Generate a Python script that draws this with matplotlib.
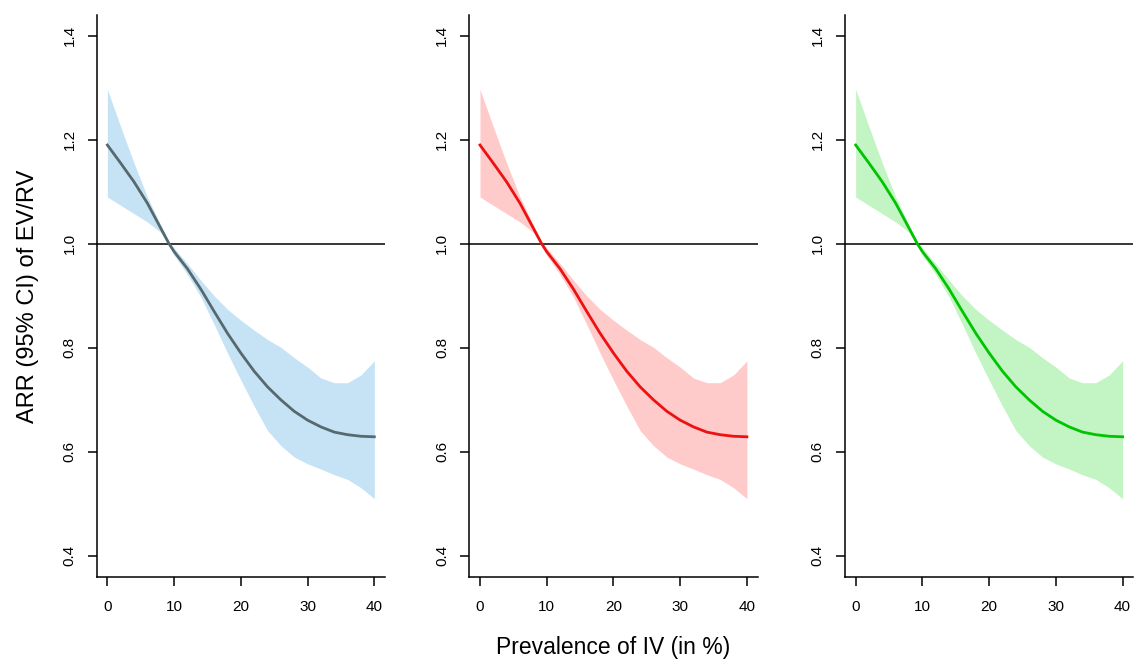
import matplotlib
matplotlib.use("Agg")
import matplotlib.pyplot as plt

plt.rcParams['font.family'] = ['Liberation Sans', 'DejaVu Sans']

# Data
prevalence = [0, 2, 4, 6, 8, 9.25, 10, 12, 14, 16, 18, 20, 22, 24, 26, 28, 30, 32, 34, 36, 38, 40]
arr_center = [1.190, 1.155, 1.119, 1.078, 1.030, 1.000, 0.985, 0.952, 0.913, 0.870, 0.828, 0.790,
              0.755, 0.725, 0.700, 0.678, 0.661, 0.648, 0.638, 0.633, 0.630, 0.629]
arr_upper = [1.297, 1.225, 1.155, 1.090, 1.036, 1.003, 0.992, 0.962, 0.930, 0.900, 0.874, 0.853,
             0.834, 0.816, 0.801, 0.781, 0.763, 0.742, 0.733, 0.733, 0.748, 0.775]
arr_lower = [1.090, 1.074, 1.058, 1.042, 1.022, 0.997, 0.978, 0.941, 0.898, 0.845, 0.790, 0.738,
             0.688, 0.641, 0.612, 0.590, 0.577, 0.567, 0.556, 0.547, 0.531, 0.510]

line_colors = ["#56696f", "#ee1111", "#00c400"]
band_colors = ["#c6e3f5", "#ffcaca", "#c3f4c3"]

x_ticks = [0, 10, 20, 30, 40]
y_ticks = [0.4, 0.6, 0.8, 1.0, 1.2, 1.4]
y_tick_labels = ["0.4", "0.6", "0.8", "1.0", "1.2", "1.4"]
x_label = "Prevalence of IV (in %)"
y_label = "ARR (95% CI) of EV/RV"

W, H = 1135, 660
fig = plt.figure(figsize=(W / 100, H / 100), dpi=100)

lefts = [96.7, 469.3, 845.0]
ax_w = 288.3
top_px, bottom_px = 15.0, 576.7

for i in range(3):
    ax = fig.add_axes([lefts[i] / W, (H - bottom_px) / H, ax_w / W, (bottom_px - top_px) / H])
    ax.fill_between(prevalence, arr_lower, arr_upper, color=band_colors[i], linewidth=0)
    ax.axhline(1.0, color="black", linewidth=1.1)
    ax.plot(prevalence, arr_center, color=line_colors[i], linewidth=2.0)
    ax.set_xlim(-1.6, 41.6)
    ax.set_ylim(0.36, 1.44)
    ax.set_xticks(x_ticks)
    ax.set_yticks(y_ticks)
    ax.set_yticklabels(y_tick_labels, rotation=90, va="center")
    for s in ["top", "right"]:
        ax.spines[s].set_visible(False)
    for s in ["left", "bottom"]:
        ax.spines[s].set_linewidth(1.1)
    ax.tick_params(axis="both", length=6.5, width=1.1, labelsize=11)
    ax.tick_params(axis="x", pad=10)
    ax.tick_params(axis="y", pad=8)
    if i == 0:
        ax.set_ylabel(y_label, fontsize=17, labelpad=17)
    if i == 1:
        ax.set_xlabel(x_label, fontsize=16.5, labelpad=16)

fig.savefig("out.png", dpi=100)
